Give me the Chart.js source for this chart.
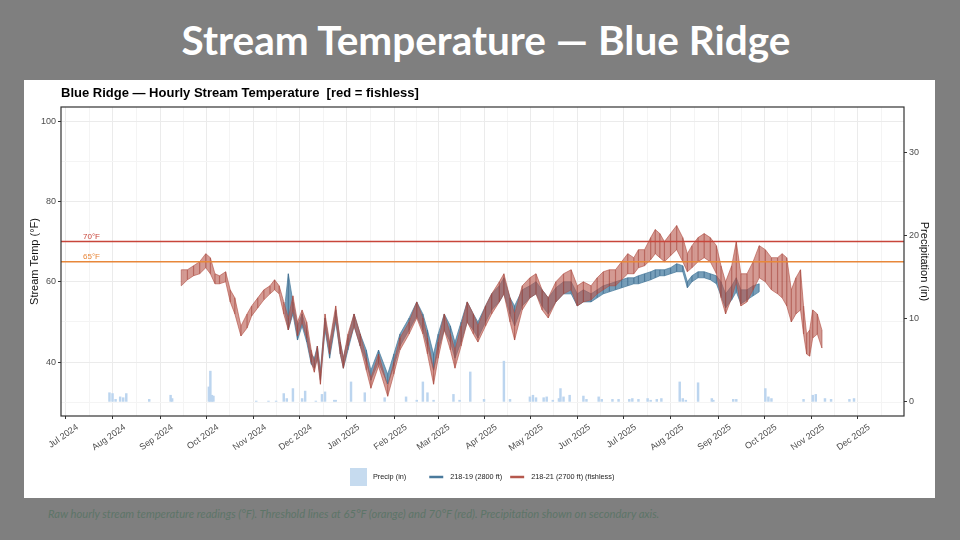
<!DOCTYPE html>
<html>
<head>
<meta charset="utf-8">
<script src="https://cdn.jsdelivr.net/npm/chart.js@4.4.1/dist/chart.umd.min.js"></script>
<style>
  html, body { margin: 0; padding: 0; }
  body { width: 960px; height: 540px; background: #7f7f7f; position: relative; overflow: hidden; }
  #title { position: absolute; left: 6px; top: 15px; width: 960px; text-align: center; color: #fff; font: bold 40.5px Lato, sans-serif; }
  #panel { position: absolute; left: 24px; top: 80px; width: 911px; height: 418px; background: #fff; }
  #note { position: absolute; left: 48px; top: 507px; color: #5d7568; font: italic 11.2px Lato, sans-serif; }
</style>
</head>
<body>
<div id="title">Stream Temperature — Blue Ridge</div>
<div id="panel"><canvas id="chartCanvas" width="911" height="418"></canvas></div>
<div id="note">Raw hourly stream temperature readings (°F). Threshold lines at 65°F (orange) and 70°F (red). Precipitation shown on secondary axis.</div>
<script>
const chartTitle = 'Blue Ridge — Hourly Stream Temperature  [red = fishless]';

// month ticks
const monthStarts = ['2024-07-01','2024-08-01','2024-09-01','2024-10-01','2024-11-01','2024-12-01',
  '2025-01-01','2025-02-01','2025-03-01','2025-04-01','2025-05-01','2025-06-01',
  '2025-07-01','2025-08-01','2025-09-01','2025-10-01','2025-11-01','2025-12-01'];
const monthLabels = ['Jul 2024','Aug 2024','Sep 2024','Oct 2024','Nov 2024','Dec 2024',
  'Jan 2025','Feb 2025','Mar 2025','Apr 2025','May 2025','Jun 2025',
  'Jul 2025','Aug 2025','Sep 2025','Oct 2025','Nov 2025','Dec 2025'];
const tempTicks = [30, 40, 50, 60, 70, 80, 90, 100];
const precipTicks = [0, 10, 20, 30];

// thresholds
const thresholds = [70, 65];
const thresholdLabels = ['70°F', '65°F'];

// 218-21 (fishless), high / low of the hourly band
const redDates = ['2024-09-07','2024-09-11','2024-09-15','2024-09-19','2024-09-23','2024-09-26','2024-09-29',
  '2024-10-02','2024-10-06','2024-10-09','2024-10-12','2024-10-16','2024-10-20','2024-10-23','2024-10-27','2024-10-31',
  '2024-11-04','2024-11-07','2024-11-10','2024-11-13','2024-11-16','2024-11-19','2024-11-22','2024-11-25','2024-11-28',
  '2024-12-01','2024-12-03','2024-12-05','2024-12-07','2024-12-10','2024-12-13','2024-12-17','2024-12-20','2024-12-22','2024-12-25','2024-12-29',
  '2025-01-02','2025-01-06','2025-01-09','2025-01-14','2025-01-20','2025-01-24','2025-01-28',
  '2025-02-03','2025-02-08','2025-02-12','2025-02-15','2025-02-19','2025-02-22','2025-02-26',
  '2025-03-02','2025-03-05','2025-03-09','2025-03-13','2025-03-17','2025-03-20','2025-03-25','2025-03-29',
  '2025-04-03','2025-04-06','2025-04-10','2025-04-13','2025-04-18','2025-04-23','2025-04-27',
  '2025-05-01','2025-05-05','2025-05-10','2025-05-15','2025-05-20','2025-05-24','2025-05-28',
  '2025-06-02','2025-06-06','2025-06-10','2025-06-14','2025-06-18','2025-06-22','2025-06-26','2025-06-30',
  '2025-07-03','2025-07-07','2025-07-11','2025-07-14','2025-07-17','2025-07-20','2025-07-24','2025-07-28',
  '2025-08-01','2025-08-04','2025-08-07','2025-08-11','2025-08-15','2025-08-19','2025-08-23','2025-08-26','2025-08-29',
  '2025-09-02','2025-09-05','2025-09-08','2025-09-12','2025-09-16','2025-09-20','2025-09-24','2025-09-28',
  '2025-10-02','2025-10-05','2025-10-08','2025-10-11','2025-10-14','2025-10-17','2025-10-19','2025-10-21','2025-10-23','2025-10-25','2025-10-28','2025-10-31'];
const redHi = [63,63,64,65,67,66,62,
  61.5,62.5,58,56,49,52,54,56,58,
  59,60.5,59,55,51,56.5,50,53,50,
  43,40,44,37,52,45,54,45,41,47,52,
  47,41,36,42,34,40,46,
  50,55,51,46,38,45,52,
  47,43,49,55,52,49,54,57,
  60,62,56,52,59,61,62,
  58,56,60,62,63,59,60,
  59,61,62.5,63,63,65,67,66,
  68,68,71,73,72,70,72,74,
  71,67,69,71,72,71,69,64,60,
  64,70,62,62,65,69,68,66,
  66,67,66,58,61,63,54,47,48,53,52,48];
const redLo = [59,60.5,61.5,62,63.5,62,59.5,
  59.5,60,55,52,46.5,48.5,51.5,53.5,55.5,
  57,58,57,52,48,53,46.5,50,46,
  40,37.5,41,34.5,49,42,51,42,38.5,44,49,
  44,38,33.5,39,31.5,37,43,
  47,51,47,42,34.5,41,48,
  43,38.5,44,50,47,45,49,52,
  55,57,50,45.5,53,56,57,
  53,51,55,57,58,54,55,
  55.5,57,58,59,59,60.5,62,62,
  63.5,64,65.5,67,66,65,66.5,68,
  65,62.5,63.5,65,66,65,62,56,52,
  56,60,54,55,58,61,60,58,
  57,56,54,50,52,53,47,42,41.5,46,47,43.5];

// 218-19, high / low of the hourly band
const blueDates = ['2024-11-14','2024-11-16','2024-11-19','2024-11-22','2024-11-25','2024-11-28',
  '2024-12-01','2024-12-03','2024-12-05','2024-12-07','2024-12-10','2024-12-13','2024-12-17','2024-12-20','2024-12-22','2024-12-25','2024-12-29',
  '2025-01-02','2025-01-06','2025-01-09','2025-01-14','2025-01-20','2025-01-24','2025-01-28',
  '2025-02-03','2025-02-08','2025-02-12','2025-02-15','2025-02-19','2025-02-22','2025-02-26',
  '2025-03-02','2025-03-05','2025-03-09','2025-03-13','2025-03-17','2025-03-20','2025-03-25','2025-03-29',
  '2025-04-03','2025-04-06','2025-04-10','2025-04-13','2025-04-18','2025-04-23','2025-04-27',
  '2025-05-01','2025-05-05','2025-05-10','2025-05-15','2025-05-20','2025-05-24','2025-05-28',
  '2025-06-02','2025-06-06','2025-06-10','2025-06-14','2025-06-18','2025-06-22','2025-06-26','2025-06-30',
  '2025-07-03','2025-07-07','2025-07-11','2025-07-14','2025-07-17','2025-07-20','2025-07-24','2025-07-28',
  '2025-08-01','2025-08-04','2025-08-07','2025-08-11','2025-08-15','2025-08-19','2025-08-23','2025-08-26','2025-08-29',
  '2025-09-02','2025-09-05','2025-09-08','2025-09-12','2025-09-16','2025-09-20'];
const blueHi = [55,62,55,49,52,48,
  42,41,44,38,51,44,53,45,41,46,52,
  47,43,38,43,37,42,47,
  51,55,52,48,42,47,52,
  49,45,50,55,52,50,54,57,
  59,61,56,54,58,59,60,
  58,56,58.5,60,60,57,58,
  57,58,59,59.5,60,60.5,61,61,
  61.5,62,62.5,63,63,63,63.5,64.5,
  64,60,61.5,62.5,62.5,62,61.5,60,57,
  59,61,58,58,59,59.5];
const blueLo = [52,48,52,45.5,49,45,
  39.5,38.5,41,35.5,48,41,50,42,38.5,43,49,
  44,40,35.5,40,34.5,39,44,
  48,51.5,48,44,38,43,48,
  45,41,45,50,48,46,50,53,
  55,57,52,49,54,56,57,
  54,52,55,57,57,54,55,
  55,56,57,57.5,58,58.5,59,59.5,
  59.5,60,60.5,61,61.5,61.5,62,62.5,
  62.5,58.5,60,61,61,60.5,59.5,56.5,53.5,
  55.5,57.5,54.5,55.5,56.5,57.5];

// daily precipitation (in)
const precipDates = ['2024-07-22','2024-07-24','2024-07-26','2024-07-29','2024-07-31','2024-08-02','2024-08-17','2024-08-31',
  '2024-09-01','2024-09-25','2024-09-26','2024-09-27','2024-09-28','2024-10-26','2024-11-03','2024-11-08','2024-11-13',
  '2024-11-15','2024-11-19','2024-11-25','2024-11-27','2024-12-04','2024-12-08','2024-12-10','2024-12-16','2024-12-17',
  '2024-12-27','2025-01-05','2025-01-18','2025-02-01','2025-02-08','2025-02-12','2025-02-15','2025-02-19','2025-03-04',
  '2025-03-08','2025-03-15','2025-03-24','2025-04-06','2025-04-10','2025-04-23','2025-04-25','2025-04-27','2025-05-02',
  '2025-05-04','2025-05-08','2025-05-12','2025-05-13','2025-05-15','2025-05-19','2025-05-28','2025-05-30','2025-06-07',
  '2025-06-09','2025-06-16','2025-06-20','2025-06-27','2025-06-29','2025-07-03','2025-07-09','2025-07-11','2025-07-15',
  '2025-07-18','2025-07-30','2025-08-01','2025-08-03','2025-08-11','2025-08-20','2025-08-21','2025-09-03','2025-09-05',
  '2025-09-24','2025-09-26','2025-09-28','2025-10-19','2025-10-25','2025-10-27','2025-11-02','2025-11-06','2025-11-18','2025-11-21'];
const precipIn = [1.1,1.0,0.3,0.6,0.5,1.0,0.3,0.8,
  0.4,1.8,3.7,0.8,0.7,0.1,0.1,0.1,1.0,
  0.4,1.6,0.4,1.3,0.1,0.9,1.2,0.2,0.2,
  2.4,1.1,0.5,0.6,0.2,2.4,1.1,0.2,0.9,
  0.2,3.6,0.3,4.9,0.3,0.6,0.8,0.5,0.5,
  0.6,0.2,0.4,1.6,0.6,0.8,0.7,0.3,0.6,
  0.3,0.3,0.3,0.3,0.4,0.3,0.4,0.2,0.3,
  0.4,2.4,0.4,0.2,2.3,0.4,0.2,0.3,0.3,
  1.6,0.6,0.4,0.3,0.8,0.9,0.4,0.3,0.3,0.4];

const day0 = Date.UTC(2024, 6, 1);
function toDay(s) {
  const [y, m, d] = s.split('-').map(Number);
  return (Date.UTC(y, m - 1, d) - day0) / 86400000;
}
const pts = (dates, vals) => dates.map((d, i) => ({ x: toDay(d), y: vals[i] }));
// each reading's swing drawn as a vertical stroke from high to low
const swings = (dates, hi, lo) => dates.flatMap((d, i) => [{ x: toDay(d), y: hi[i] }, { x: toDay(d), y: lo[i] }]);
const onlyVertical = color => c => (c.p0.parsed.x === c.p1.parsed.x ? color : 'rgba(0,0,0,0)');

const xMin = -10.7, xMax = 540.7;
const majorDays = monthStarts.map(toDay);
const minorDays = majorDays.slice(1).map((d, i) => (d + majorDays[i]) / 2);
minorDays.push(majorDays[majorDays.length - 1] + 15.5);
const xTickValues = majorDays.concat(minorDays).filter(d => d >= xMin && d <= xMax).sort((a, b) => a - b);
const labelByDay = new Map(majorDays.map((d, i) => [d, monthLabels[i]]));

const RED_LINE = 'rgba(160, 62, 52, 0.55)';
const RED_EDGE = 'rgba(176, 76, 64, 0.75)';
const RED_FILL = 'rgba(186, 92, 80, 0.62)';
const BLUE_LINE = 'rgba(55, 100, 135, 0.6)';
const BLUE_EDGE = 'rgba(72, 122, 156, 0.9)';
const BLUE_FILL = 'rgba(84, 134, 168, 0.8)';
const tickFont = { family: 'Liberation Sans', size: 9 };

const decor = {
  id: 'decor',
  afterDraw(chart) {
    const { ctx, chartArea: a, scales: { y } } = chart;
    ctx.save();
    ctx.strokeStyle = '#333';
    ctx.lineWidth = 1.2;
    ctx.strokeRect(a.left, a.top, a.right - a.left, a.bottom - a.top);

    ctx.font = '8px "Liberation Sans"';
    ctx.textBaseline = 'bottom';
    ['#c8453a', '#e8873a'].forEach((c, i) => {
      ctx.fillStyle = c;
      ctx.fillText(thresholdLabels[i], a.left + 22, y.getPixelForValue(thresholds[i]) - 1);
    });

    ctx.font = 'bold 13px "Liberation Sans"';
    ctx.fillStyle = '#000';
    ctx.textBaseline = 'middle';
    ctx.fillText(chartTitle, a.left, 13);

    // legend
    const ly = 397;
    let lx = 326;
    ctx.font = '7.3px "Liberation Sans"';
    ctx.fillStyle = '#c6dbef';
    ctx.fillRect(lx, ly - 9, 17, 18);
    lx += 23;
    ctx.fillStyle = '#222';
    ctx.fillText('Precip (in)', lx, ly);
    lx += ctx.measureText('Precip (in)').width + 23;
    [['#4a7a9c', '218-19 (2800 ft)'], ['#b5584d', '218-21 (2700 ft) (fishless)']].forEach(([c, t]) => {
      ctx.strokeStyle = c;
      ctx.lineWidth = 2.5;
      ctx.beginPath(); ctx.moveTo(lx, ly); ctx.lineTo(lx + 14, ly); ctx.stroke();
      lx += 21;
      ctx.fillStyle = '#222';
      ctx.fillText(t, lx, ly);
      lx += ctx.measureText(t).width + 8;
    });
    ctx.restore();
  }
};

const ctx = document.getElementById('chartCanvas').getContext('2d');
new Chart(ctx, {
  type: 'line',
  data: {
    datasets: [
      ...thresholds.map((t, i) => ({
        label: thresholdLabels[i],
        data: [{ x: xMin, y: t }, { x: xMax, y: t }],
        borderColor: i === 0 ? '#c8453a' : '#e8873a',
        borderWidth: 1.5,
        pointRadius: 0,
        order: 0
      })),
      { label: 'red hi', data: pts(redDates, redHi), borderColor: RED_EDGE, borderWidth: 0.8, pointRadius: 0, fill: false, order: 2 },
      { label: 'red lo', data: pts(redDates, redLo), borderColor: RED_EDGE, borderWidth: 0.8, pointRadius: 0, fill: '-1', backgroundColor: RED_FILL, order: 2 },
      { label: '218-21 (2700 ft) (fishless)', data: swings(redDates, redHi, redLo), borderWidth: 1.2, pointRadius: 0, order: 1,
        segment: { borderColor: onlyVertical(RED_LINE) } },
      { label: 'blue hi', data: pts(blueDates, blueHi), borderColor: BLUE_EDGE, borderWidth: 0.8, pointRadius: 0, fill: false, order: 4 },
      { label: 'blue lo', data: pts(blueDates, blueLo), borderColor: BLUE_EDGE, borderWidth: 0.8, pointRadius: 0, fill: '-1', backgroundColor: BLUE_FILL, order: 4 },
      { label: '218-19 (2800 ft)', data: swings(blueDates, blueHi, blueLo), borderWidth: 1.2, pointRadius: 0, order: 3,
        segment: { borderColor: onlyVertical(BLUE_LINE) } },
      { type: 'bar', label: 'Precip (in)', data: pts(precipDates, precipIn), yAxisID: 'y2', backgroundColor: '#bcd5ef', barThickness: 1.8, order: 5 }
    ]
  },
  options: {
    responsive: false,
    animation: false,
    layout: { padding: { top: 27, left: 0, right: 0, bottom: 0 } },
    plugins: { legend: { display: false }, tooltip: { enabled: false }, title: { display: false } },
    scales: {
      x: {
        type: 'linear', min: xMin, max: xMax, offset: false,
        afterBuildTicks: s => { s.ticks = xTickValues.map(v => ({ value: v })); },
        afterFit: s => { s.height = 82; },
        ticks: {
          autoSkip: false, minRotation: 35, maxRotation: 35, padding: 3,
          font: tickFont, color: '#4d4d4d',
          callback: v => labelByDay.get(v) || ''
        },
        grid: {
          color: c => labelByDay.has(c.tick && c.tick.value) ? '#ebebeb' : '#f4f4f4',
          tickColor: c => labelByDay.has(c.tick && c.tick.value) ? '#333' : 'rgba(0,0,0,0)',
          tickLength: 3, lineWidth: 1
        },
        border: { display: false }
      },
      y: {
        min: 26.6, max: 103.5,
        afterBuildTicks: s => { s.ticks = tempTicks.map(v => ({ value: v })); },
        afterFit: s => { s.width = 37; },
        title: { display: true, text: 'Stream Temp (°F)', font: { family: 'Liberation Sans', size: 11 }, color: '#111', padding: { top: 4, bottom: 0 } },
        ticks: { font: tickFont, color: '#4d4d4d', padding: 2, callback: v => (v % 20 === 0 ? v : '') },
        grid: {
          color: c => (c.tick && c.tick.value % 20 === 0) ? '#ebebeb' : '#f4f4f4',
          tickColor: c => (c.tick && c.tick.value % 20 === 0) ? '#333' : 'rgba(0,0,0,0)',
          tickLength: 3
        },
        border: { display: false }
      },
      y2: {
        position: 'right', min: -1.7, max: 35.5,
        afterBuildTicks: s => { s.ticks = precipTicks.map(v => ({ value: v })); },
        afterFit: s => { s.width = 31; },
        title: { display: true, text: 'Precipitation (in)', font: { family: 'Liberation Sans', size: 11 }, color: '#111', padding: { top: 4, bottom: 0 } },
        ticks: { font: tickFont, color: '#4d4d4d', padding: 2 },
        grid: { drawOnChartArea: false, tickColor: '#333', tickLength: 3 },
        border: { display: false }
      }
    }
  },
  plugins: [decor]
});
</script>
</body>
</html>
